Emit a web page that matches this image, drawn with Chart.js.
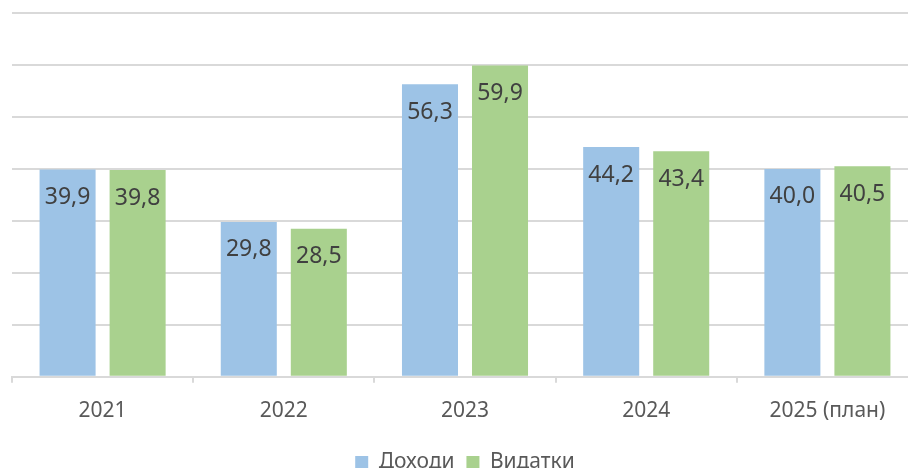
<!DOCTYPE html>
<html>
<head>
<meta charset="utf-8">
<script src="https://cdn.jsdelivr.net/npm/chart.js@4/dist/chart.umd.min.js"></script>
<style>
  html, body { margin: 0; padding: 0; background: #fff; overflow: hidden; }
  #wrap { width: 938px; height: 468px; }
</style>
</head>
<body>
<div id="wrap"><canvas id="chart" width="938" height="468"></canvas></div>
<script>
const years = ['2021', '2022', '2023', '2024', '2025 (план)'];
const income = [39.9, 29.8, 56.3, 44.2, 40.0];
const spending = [39.8, 28.5, 59.9, 43.4, 40.5];
const seriesNames = ['Доходи', 'Видатки'];

// підписи значень всередині стовпців
const valueLabels = {
  id: 'valueLabels',
  afterDatasetsDraw(chart) {
    const ctx = chart.ctx;
    ctx.save();
    ctx.font = '23px "Noto Sans"';
    ctx.fillStyle = '#404040';
    ctx.textAlign = 'center';
    ctx.textBaseline = 'middle';
    chart.data.datasets.forEach((ds, i) => {
      chart.getDatasetMeta(i).data.forEach((bar, j) => {
        const txt = ds.data[j].toFixed(1).replace('.', ',');
        ctx.fillText(txt, bar.x, bar.y + 28);
      });
    });
    ctx.restore();
  }
};

new Chart(document.getElementById('chart'), {
  type: 'bar',
  data: {
    labels: years,
    datasets: [
      { label: seriesNames[0], data: income, backgroundColor: '#9DC3E6' },
      { label: seriesNames[1], data: spending, backgroundColor: '#A9D18E' }
    ]
  },
  options: {
    responsive: false,
    animation: false,
    layout: { padding: { left: 12, right: 20, top: 13, bottom: -15 } },
    datasets: { bar: { categoryPercentage: 0.773, barPercentage: 0.8 } },
    scales: {
      y: {
        min: 0, max: 70,
        ticks: { display: false, stepSize: 10 },
        grid: { color: '#d9d9d9', lineWidth: 2, drawTicks: false },
        border: { display: false }
      },
      x: {
        grid: { drawOnChartArea: false, drawTicks: true, tickLength: 6, color: '#d9d9d9', lineWidth: 2 },
        border: { color: '#d9d9d9', width: 2 },
        ticks: { color: '#595959', font: { family: 'Noto Sans', size: 21 }, padding: 16 }
      }
    },
    plugins: {
      legend: {
        position: 'bottom',
        labels: {
          color: '#595959',
          font: { family: 'Noto Sans', size: 21 },
          boxWidth: 13, boxHeight: 13,
          padding: 12
        }
      },
      tooltip: { enabled: false }
    }
  },
  plugins: [valueLabels]
});
</script>
</body>
</html>
